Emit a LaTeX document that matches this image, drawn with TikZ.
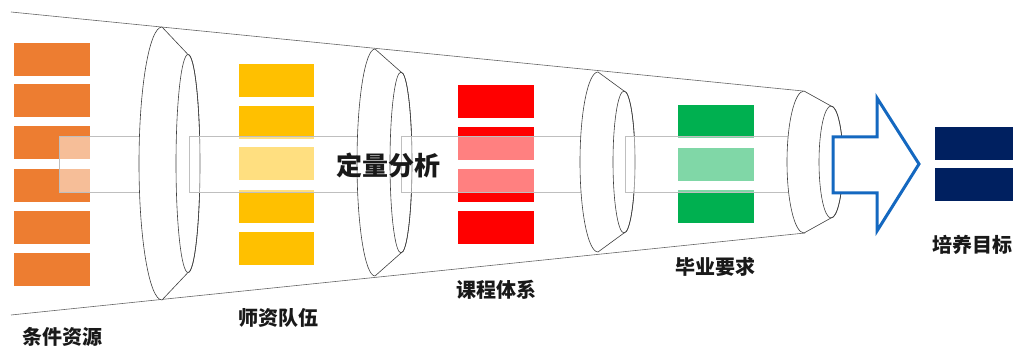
\documentclass[tikz,border=0pt]{standalone}
\usepackage{fontspec}
\newfontfamily\cjk{Noto Sans CJK SC}
\definecolor{cOrange}{HTML}{ED7D31}
\definecolor{cYellow}{HTML}{FFC000}
\definecolor{cRed}{HTML}{FF0000}
\definecolor{cGreen}{HTML}{00B050}
\definecolor{cNavy}{HTML}{002060}
\definecolor{cBlue}{HTML}{1468C0}
\definecolor{cLine}{HTML}{404040}
\definecolor{cBand}{HTML}{BFBFBF}
\tikzset{
  bar/.style={draw=none, inner sep=0pt, minimum width=76pt, minimum height=33pt},
  lbl/.style={font=\cjk\bfseries\fontsize{20}{20}\selectfont, text=black!90, inner sep=0pt},
  biglbl/.style={font=\cjk\bfseries\fontsize{26}{26}\selectfont, text=black!90, inner sep=0pt},
  band/.style={draw=cBand, line width=0.6pt, fill=white, fill opacity=0.5},
  funnel/.style={draw=cLine, line width=0.6pt},
  bigarrow/.style={draw=cBlue, line width=3pt, fill=white, line join=miter}
}
\newcommand\myfrustum[7]{%
  \filldraw[funnel, fill=white] (#1,#7-#3) arc[start angle=90,end angle=270,x radius=#2pt,y radius=#3pt]
    -- (#4,#7+#6) arc[start angle=-90,end angle=90,x radius=#5pt,y radius=#6pt] -- cycle;
  \draw[funnel] (#4,#7) ellipse[x radius=#5pt, y radius=#6pt];
}
\begin{document}
\begin{tikzpicture}[x=1pt,y=-1pt]
\useasboundingbox (0,0) rectangle (1014,347);
\fill[white] (0,0) rectangle (1014,347);
% funnel outline
\coordinate (tl) at (11,12);
\coordinate (tr) at (803,91);
\coordinate (bl) at (11,315);
\coordinate (br) at (805,233);
\draw[funnel, draw=black!60] (tl) -- (tr);
\draw[funnel, draw=black!60] (bl) -- (br);
% bars: conditions
\foreach \y [count=\i] in {59.5,101,143,185.5,227.5,269.5}
  \node[bar, fill=cOrange] (o\i) at (52,\y) {};
% bars: teachers
\foreach \y [count=\i] in {80.5,122.5,164,207,248.5}
  \node[bar, fill=cYellow, minimum width=75pt] (y\i) at (276.5,\y) {};
% bars: curriculum
\foreach \y [count=\i] in {101.5,143.5,185.5,227.5}
  \node[bar, fill=cRed] (r\i) at (496,\y) {};
% bars: graduation requirements
\foreach \y [count=\i] in {122,164.5,207}
  \node[bar, fill=cGreen] (g\i) at (716,\y) {};
% bars: goals
\foreach \y [count=\i] in {143.5,185}
  \node[bar, fill=cNavy, minimum width=78pt] (n\i) at (974,\y) {};
% band and funnels
\path[band] (59,136) rectangle (170,192);
\myfrustum{162}{23}{136.5}{188}{12}{109}{163.5}
\path[band] (189,136) rectangle (380,192);
\myfrustum{375}{18}{113.5}{401}{11}{90.5}{162.5}
\path[band] (401,136) rectangle (600,192);
\myfrustum{598}{18}{90}{624}{11}{71}{162}
\path[band] (625,136) rectangle (810,192);
\myfrustum{804}{17}{71}{831}{12}{56}{162}
% big arrow
\draw[bigarrow] (833,137) -- (877,137) -- (877,98) -- (919,164) -- (877,231) -- (877,193) -- (833,193) -- cycle;
% labels
\node[biglbl] (qa) at (388,165) {定量分析};
\node[lbl] (l1) at (62,337) {条件资源};
\node[lbl] (l2) at (278,318) {师资队伍};
\node[lbl] (l3) at (496,290) {课程体系};
\node[lbl] (l4) at (715,267) {毕业要求};
\node[lbl] (l5) at (972,245) {培养目标};
\end{tikzpicture}
\end{document}
